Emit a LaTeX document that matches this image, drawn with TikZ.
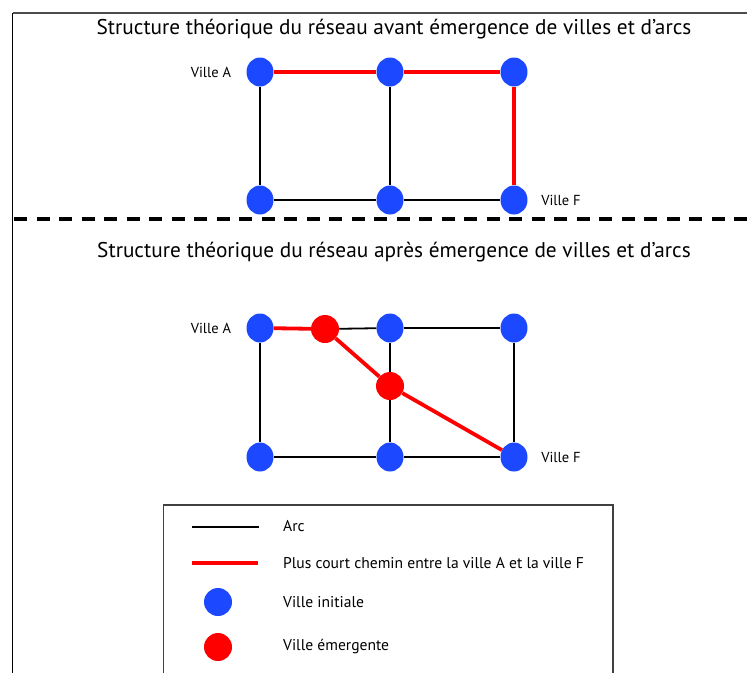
\documentclass[tikz,border=0pt]{standalone}
\usepackage{fontspec}
\setmainfont{PT Sans}
\usetikzlibrary{shapes.geometric}
\definecolor{cblue}{RGB}{28,72,255}
\definecolor{cred}{RGB}{255,0,0}
\tikzset{
  bnode/.style={ellipse,fill=cblue,minimum width=27pt,minimum height=29pt,inner sep=0pt},
  rnode/.style={circle,fill=cred,minimum size=28pt,inner sep=0pt},
  arc/.style={draw=black,line width=1.8pt},
  path/.style={draw=cred,line width=3.8pt},
  lbl/.style={font=\fontsize{14.5}{17}\selectfont,inner sep=0pt},
  ttl/.style={font=\fontsize{21.3}{25}\selectfont,inner sep=0pt},
  leg/.style={font=\fontsize{15.6}{18}\selectfont,inner sep=0pt,anchor=west},
}
\begin{document}
\begin{tikzpicture}[x=1pt,y=-1pt]
\useasboundingbox (0,0) rectangle (747,673);
% frame
\draw[line width=1.5pt,black!70] (12.5,13) -- (747,13);
\draw[line width=1.8pt] (12.5,13) -- (12.5,673);
% titles
\node[ttl] (t1) at (394,29) {Structure théorique du réseau avant émergence de villes et d’arcs};
\node[ttl] (t2) at (394,252) {Structure théorique du réseau après émergence de villes et d’arcs};
% separator
\coordinate (sl) at (14,219);
\coordinate (sr) at (747,219);
\draw[line width=4pt,dash pattern=on 13pt off 9.5pt] (sl) -- (sr);
% top graph
\node[bnode] (a1) at (260,72) {};
\node[bnode] (b1) at (390,72) {};
\node[bnode] (c1) at (514,72) {};
\node[bnode] (d1) at (260,200) {};
\node[bnode] (e1) at (390,200) {};
\node[bnode] (f1) at (514,200) {};
\draw[arc] (a1) -- (d1);
\draw[arc] (b1) -- (e1);
\draw[arc] (d1) -- (e1);
\draw[arc] (e1) -- (f1);
\draw[path] (a1) -- (b1);
\draw[path] (b1) -- (c1);
\draw[path] (c1) -- (f1);
\node[lbl] (la1) at (211,72) {Ville A};
\node[lbl] (lf1) at (561,200) {Ville F};
% bottom graph
\node[bnode] (a2) at (260,328) {};
\node[bnode] (b2) at (390,328) {};
\node[bnode] (c2) at (514,328) {};
\node[bnode] (d2) at (260,457) {};
\node[bnode] (e2) at (390,457) {};
\node[bnode] (f2) at (514,457) {};
\node[rnode] (r1) at (325,329) {};
\node[rnode] (r2) at (390,386) {};
\draw[arc] (r1) -- (b2);
\draw[arc] (b2) -- (c2);
\draw[arc] (a2) -- (d2);
\draw[arc] (c2) -- (f2);
\draw[arc] (d2) -- (e2);
\draw[arc] (e2) -- (f2);
\draw[arc] (b2) -- (r2);
\draw[arc] (r2) -- (e2);
\draw[path] (a2) -- (r1);
\draw[path] (r1) -- (r2);
\draw[path] (r2) -- (f2);
\node[lbl] (la2) at (211,328) {Ville A};
\node[lbl] (lf2) at (561,457) {Ville F};
% legend
\draw[line width=1.5pt,black!75] (163.5,673) -- (163.5,505) -- (613,505) -- (613,673);
\coordinate (k1a) at (192,527);
\coordinate (k1b) at (259,527);
\draw[line width=1.3pt] (k1a) -- (k1b);
\node[leg] (k1t) at (283,526) {Arc};
\coordinate (k2a) at (192,563);
\coordinate (k2b) at (258,563);
\draw[path] (k2a) -- (k2b);
\node[leg] (k2t) at (283,563) {Plus court chemin entre la ville A et la ville F};
\node[circle,fill=cblue,minimum size=28pt,inner sep=0pt] (k3) at (218,602) {};
\node[leg] (k3t) at (283,602) {Ville initiale};
\node[rnode] (k4) at (218,647) {};
\node[leg] (k4t) at (283,647) {Ville émergente};
\end{tikzpicture}
\end{document}
